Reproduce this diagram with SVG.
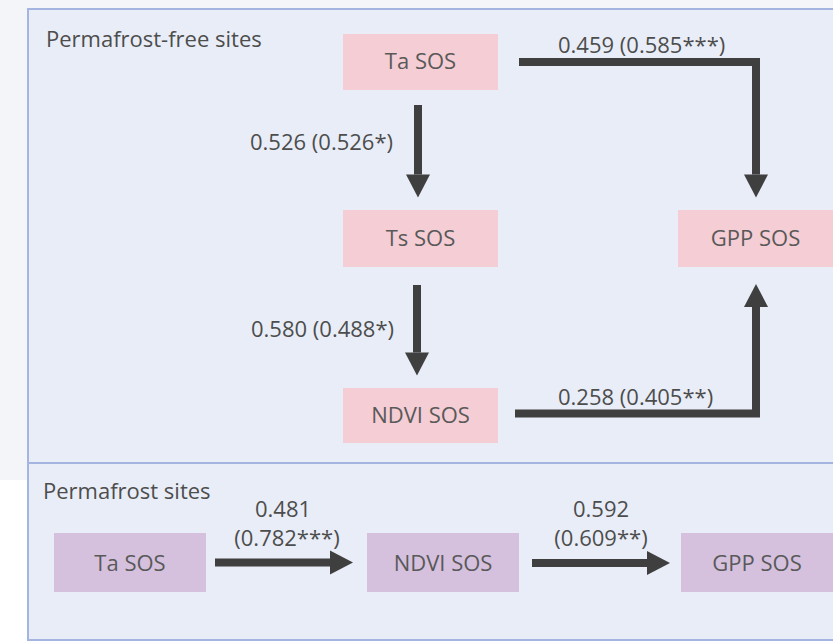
<svg xmlns="http://www.w3.org/2000/svg" width="833" height="641" viewBox="0 0 833 641">
<style>
text{font-family:"Open Sans","Noto Sans","DejaVu Sans",sans-serif;font-size:22px}
.panel{fill:#e9edf8;stroke:#a3b5e0;stroke-width:2}
.pink{fill:#f5cdd4}
.purple{fill:#d5c1de}
.nt{fill:#595959;text-anchor:middle}
.lb{fill:#4d4d4d}
.lbm{fill:#4d4d4d;text-anchor:middle}
.conn{fill:none;stroke:#3f3f3f;stroke-width:8;stroke-linejoin:miter}
</style>
<defs>
<marker id="ah" markerUnits="userSpaceOnUse" markerWidth="23" markerHeight="24" refX="0" refY="12" orient="auto" overflow="visible">
<path d="M0,0 L23,12 L0,24 Z" fill="#3f3f3f"/>
</marker>
</defs>
<rect x="0" y="0" width="833" height="480" fill="#f4f5f9"/>
<rect x="0" y="480" width="833" height="161" fill="#ffffff"/>
<g id="panel-free">
<rect class="panel" x="28" y="9" width="830" height="454"/>
<text class="lb" x="46" y="47">Permafrost-free sites</text>
</g>
<g id="panel-perma">
<rect class="panel" x="28" y="463" width="830" height="177"/>
<text class="lb" x="43" y="499">Permafrost sites</text>
</g>
<g id="free-ta">
<rect class="pink" x="343" y="34" width="155" height="56"/>
<text class="nt" x="420.5" y="69">Ta SOS</text>
</g>
<g id="free-ts">
<rect class="pink" x="343" y="210" width="155" height="57"/>
<text class="nt" x="420.5" y="246">Ts SOS</text>
</g>
<g id="free-ndvi">
<rect class="pink" x="343" y="388" width="155" height="55"/>
<text class="nt" x="420.5" y="423">NDVI SOS</text>
</g>
<g id="free-gpp">
<rect class="pink" x="678" y="210" width="160" height="57"/>
<text class="nt" x="755.5" y="246">GPP SOS</text>
</g>
<g id="perma-ta">
<rect class="purple" x="54" y="533" width="152" height="59"/>
<text class="nt" x="130" y="571">Ta SOS</text>
</g>
<g id="perma-ndvi">
<rect class="purple" x="367" y="533" width="152" height="59"/>
<text class="nt" x="443" y="571">NDVI SOS</text>
</g>
<g id="perma-gpp">
<rect class="purple" x="681" y="533" width="157" height="59"/>
<text class="nt" x="757" y="571">GPP SOS</text>
</g>
<g id="connectors">
<path class="conn" d="M418,105 V174.5" marker-end="url(#ah)"/>
<path class="conn" d="M519,62 H756 V174.5" marker-end="url(#ah)"/>
<path class="conn" d="M417,285 V352.5" marker-end="url(#ah)"/>
<path class="conn" d="M515,413.5 H756 V307" marker-end="url(#ah)"/>
<path class="conn" d="M215,562.5 H330" marker-end="url(#ah)"/>
<path class="conn" d="M532,563 H647" marker-end="url(#ah)"/>
<text class="lb" x="250" y="150">0.526 (0.526*)</text>
<text class="lb" x="558" y="53">0.459 (0.585***)</text>
<text class="lb" x="251" y="337">0.580 (0.488*)</text>
<text class="lb" x="558" y="405">0.258 (0.405**)</text>
<text class="lbm" x="283" y="517">0.481</text>
<text class="lbm" x="287" y="546">(0.782***)</text>
<text class="lbm" x="601" y="517">0.592</text>
<text class="lbm" x="601" y="546">(0.609**)</text>
</g>
</svg>
